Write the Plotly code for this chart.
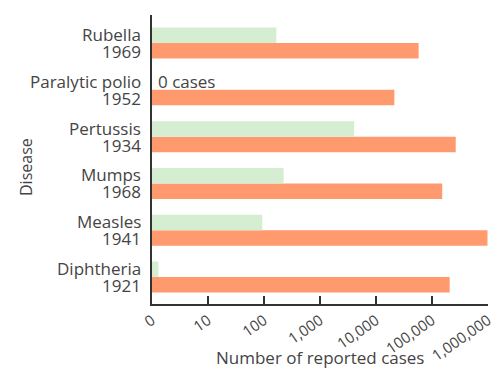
import plotly.graph_objects as go

# Data, bottom to top
diseases = ["Diphtheria", "Measles", "Mumps", "Pertussis", "Paralytic polio", "Rubella"]
peak_years = ["1921", "1941", "1968", "1934", "1952", "1969"]
peak_cases = [206939, 980000, 152209, 265269, 21269, 57686]
recent_cases = [1.3, 93, 224, 4070, None, 166]

tick_vals = [1, 10, 100, 1000, 10000, 100000, 1000000]
tick_text = ["0", "10", "100", "1,000", "10,000", "100,000", "1,000,000"]

FONT = "Open Sans"
TXT = "#444444"
ORANGE = "#FF9A6F"
GREEN = "#D5EDD1"
FS = 17

fig = go.Figure()
fig.add_trace(go.Bar(
    y=diseases, x=peak_cases, orientation="h", name="Peak",
    marker=dict(color=ORANGE, line=dict(width=0)),
))
fig.add_trace(go.Bar(
    y=diseases, x=recent_cases, orientation="h", name="Recent",
    marker=dict(color=GREEN, line=dict(width=0)),
))

# page body offsets the figure by 8px; target plot area on screen x 152..488, y 15..304
OFF = 8
W, H = 500, 373
L, R, T, B = 152 - OFF, 488 - OFF, 15 - OFF, 304 - OFF
def px(x):
    return (x - OFF - L) / (R - L)
def py(y):
    return (B - (y - OFF)) / (B - T)

annotations = []
for d, yr in zip(diseases, peak_years):
    annotations.append(dict(text=d, xref="paper", yref="y", x=px(143), y=d,
                            xanchor="right", yanchor="middle", yshift=8.5,
                            showarrow=False, font=dict(size=FS, color=TXT)))
    annotations.append(dict(text=yr, xref="paper", yref="y", x=px(143), y=d,
                            xanchor="right", yanchor="middle", yshift=-8.5,
                            showarrow=False, font=dict(size=FS, color=TXT)))

annotations += [
    dict(text="Disease", xref="paper", yref="paper", x=px(26), y=py(167),
         xanchor="center", yanchor="middle",
         textangle=-90, showarrow=False, font=dict(size=FS - 1, color=TXT)),
    dict(text="Number of reported cases", xref="paper", yref="paper",
         x=px(320), y=py(357), xanchor="center", yanchor="middle",
         showarrow=False, font=dict(size=FS, color=TXT)),
    dict(text="0 cases", xref="x", yref="y", x=0, y=diseases[4],
         xanchor="left", yanchor="middle", xshift=4, yshift=8.5, showarrow=False,
         font=dict(size=FS, color=TXT)),
]

fig.update_layout(
    width=W, height=H,
    margin=dict(l=L, r=W - R, t=T, b=H - B, autoexpand=False),
    paper_bgcolor="white", plot_bgcolor="white",
    barmode="group", bargap=0.338, bargroupgap=0,
    showlegend=False,
    font=dict(family=FONT, size=FS, color=TXT),
    xaxis=dict(
        type="log", range=[0, 6], automargin=False,
        tickvals=tick_vals, ticktext=tick_text, tickangle=-35,
        ticks="inside", ticklen=8, tickwidth=1.5, tickcolor="#333333",
        showline=True, linecolor="#333333", linewidth=2,
        showgrid=False, zeroline=False,
        tickfont=dict(family=FONT, size=15, color=TXT),
    ),
    yaxis=dict(
        type="category", categoryorder="array", categoryarray=diseases,
        range=[-0.577, 5.60], automargin=False,
        showline=True, linecolor="#333333", linewidth=2,
        ticks="", showticklabels=False, showgrid=False, zeroline=False,
    ),
    annotations=annotations,
    shapes=[
        dict(type="line", xref="paper", yref="paper",
             x0=px(4), x1=px(4), y0=py(350), y1=py(373),
             line=dict(color="black", width=1.2)),
    ],
)

fig.write_html("out.html")
